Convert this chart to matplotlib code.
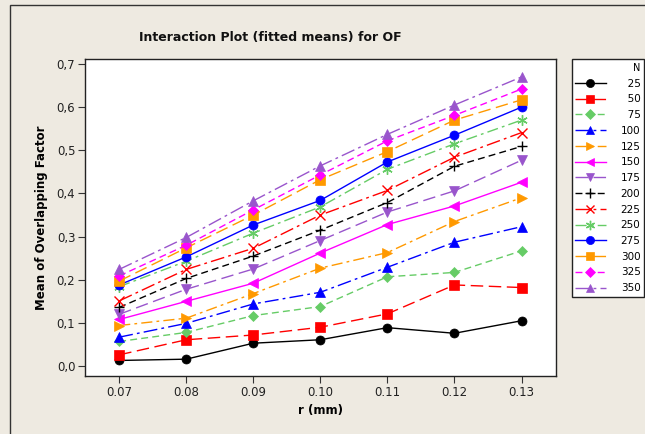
import matplotlib
matplotlib.use("Agg")
import matplotlib.pyplot as plt
from matplotlib.patches import Rectangle
from matplotlib.ticker import FuncFormatter

r_values = [0.07, 0.08, 0.09, 0.10, 0.11, 0.12, 0.13]
x_tick_labels = ["0.07", "0.08", "0.09", "0.10", "0.11", "0.12", "0.13"]
n_levels = [25, 50, 75, 100, 125, 150, 175, 200, 225, 250, 275, 300, 325, 350]

means = {
    25:  [0.013, 0.016, 0.053, 0.061, 0.089, 0.076, 0.105],
    50:  [0.026, 0.061, 0.072, 0.090, 0.121, 0.188, 0.182],
    75:  [0.057, 0.078, 0.117, 0.138, 0.207, 0.217, 0.267],
    100: [0.067, 0.099, 0.144, 0.171, 0.229, 0.287, 0.323],
    125: [0.094, 0.111, 0.168, 0.227, 0.263, 0.335, 0.390],
    150: [0.108, 0.150, 0.192, 0.262, 0.328, 0.371, 0.426],
    175: [0.120, 0.178, 0.225, 0.291, 0.357, 0.406, 0.477],
    200: [0.136, 0.203, 0.255, 0.315, 0.379, 0.463, 0.509],
    225: [0.151, 0.224, 0.273, 0.350, 0.407, 0.484, 0.541],
    250: [0.184, 0.243, 0.308, 0.369, 0.456, 0.515, 0.570],
    275: [0.188, 0.253, 0.327, 0.384, 0.473, 0.535, 0.600],
    300: [0.197, 0.274, 0.350, 0.432, 0.497, 0.570, 0.617],
    325: [0.209, 0.280, 0.362, 0.443, 0.522, 0.581, 0.642],
    350: [0.224, 0.298, 0.383, 0.464, 0.537, 0.605, 0.670],
}

BLACK, RED, GREEN, BLUE, ORANGE, MAGENTA, PURPLE = (
    "#000000", "#FF0000", "#66CC66", "#0000FF", "#FF9900", "#FF00FF", "#9955CC")

styles = {
    25:  dict(color=BLACK,   marker="o", ls="-"),
    50:  dict(color=RED,     marker="s", ls=(0, (9, 4))),
    75:  dict(color=GREEN,   marker="D", ls=(0, (5, 3))),
    100: dict(color=BLUE,    marker="^", ls=(0, (10, 3, 2, 3))),
    125: dict(color=ORANGE,  marker=">", ls=(0, (8, 3, 2, 3))),
    150: dict(color=MAGENTA, marker="<", ls="-"),
    175: dict(color=PURPLE,  marker="v", ls=(0, (9, 4))),
    200: dict(color=BLACK,   marker="+", ls=(0, (5, 3))),
    225: dict(color=RED,     marker="x", ls=(0, (10, 3, 2, 3))),
    250: dict(color=GREEN,   marker=(6, 2, 0), ls=(0, (8, 3, 2, 3))),
    275: dict(color=BLUE,    marker="o", ls="-"),
    300: dict(color=ORANGE,  marker="s", ls=(0, (9, 4))),
    325: dict(color=MAGENTA, marker="D", ls=(0, (5, 3))),
    350: dict(color=PURPLE,  marker="^", ls=(0, (10, 3, 2, 3))),
}

BG = "#EEEAE1"
plt.rcParams["font.family"] = ["DejaVu Sans"]

fig = plt.figure(figsize=(6.45, 4.34), dpi=100, facecolor=BG)
ax = fig.add_axes([85/645, 1-376/434, (555.7-85)/645, (376-59)/434])
ax.set_facecolor("white")

# outer frame (cropped)
fig.patches.append(Rectangle((10/645, -0.1), 1.2, (1-5/434)+0.1, transform=fig.transFigure,
                             fill=False, edgecolor="#333333", linewidth=1.0))

msize = {"o": 6.5, "s": 6.5, "D": 5.5, "^": 6.5, ">": 6.5, "<": 6.5, "v": 6.5,
         "+": 7.5, "x": 7}
handles = []
for n in n_levels:
    st = styles[n]
    mk = st["marker"]
    ms = msize.get(mk, 7.5) if not isinstance(mk, tuple) else 7.5
    mew = 1.0 if mk in ("+", "x") or isinstance(mk, tuple) else 0.5
    line, = ax.plot(r_values, means[n], color=st["color"], linestyle=st["ls"],
                    linewidth=1.0, marker=mk, markersize=ms,
                    markeredgewidth=mew, markerfacecolor=st["color"],
                    markeredgecolor=st["color"], label=str(n))
    handles.append(line)

ax.set_xlim(0.0649, 0.1351)
ax.set_ylim(-0.023, 0.7116)
ax.set_xticks(r_values)
ax.set_xticklabels(x_tick_labels)
ax.set_yticks([0.0, 0.1, 0.2, 0.3, 0.4, 0.5, 0.6, 0.7])
ax.yaxis.set_major_formatter(FuncFormatter(lambda v, p: f"{v:.1f}".replace(".", ",")))
ax.tick_params(axis="both", labelsize=8.5, length=5, width=0.8, color="#333333",
               labelcolor="#222222", pad=2)
for s in ax.spines.values():
    s.set_linewidth(1.0)
    s.set_color("#222222")

ax.set_xlabel("r (mm)", fontsize=8.5, fontweight="bold", labelpad=4)
ax.set_ylabel("Mean of Overlapping Factor", fontsize=8.5, fontweight="bold", labelpad=6)
fig.text(270/645, 1-38/434, "Interaction Plot (fitted means) for OF", ha="center",
         va="center", fontsize=9, fontweight="bold", color="#111111")

labels = [("\u2007" * (3 - len(str(n)))) + str(n) for n in n_levels]
leg = fig.legend(handles, labels, loc="upper left",
                 bbox_to_anchor=(571.7/645, 1-59.3/434), bbox_transform=fig.transFigure,
                 title="N", alignment="right", fontsize=7.5, title_fontsize=7,
                 frameon=True, fancybox=False, edgecolor="#222222", facecolor="white",
                 framealpha=1, handlelength=2.9, handletextpad=1.45, labelspacing=0.55,
                 borderpad=0.35, borderaxespad=0, markerscale=0.9)
leg.get_frame().set_linewidth(1.0)

fig.savefig("out.png", dpi=100, facecolor=BG)
